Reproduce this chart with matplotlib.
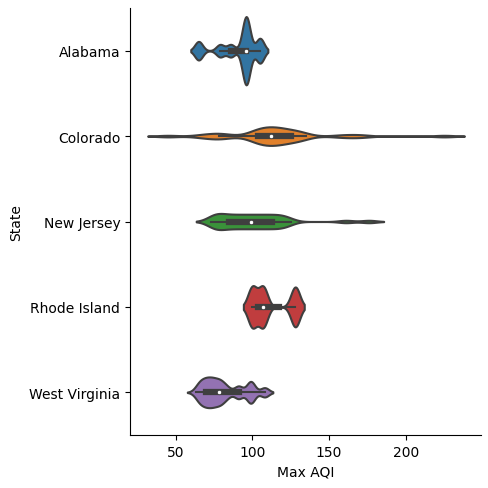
import numpy as np
import pandas as pd
import matplotlib
matplotlib.use("Agg")
import matplotlib.pyplot as plt
import seaborn as sns

# Max AQI readings per state (value, how many readings with that value)
states = ["Alabama", "Colorado", "New Jersey", "Rhode Island", "West Virginia"]

al_vals = [65, 79, 86, 96, 105]
al_counts = [3, 2, 2, 11, 4]

co_vals = [45, 66, 72, 78, 84, 100, 104, 108, 112, 116, 120, 125, 130, 135, 157, 165, 172, 225]
co_counts = [1, 1, 1, 2, 1, 2, 3, 3, 3, 3, 3, 2, 3, 1, 1, 1, 1, 1]

nj_vals = [73, 77, 81, 85, 89, 93, 97, 101, 105, 109, 113, 117, 121, 125, 161, 176]
nj_counts = [2, 3, 2, 2, 2, 2, 2, 2, 2, 2, 2, 2, 2, 1, 1, 1]

ri_vals = [100, 107, 128]
ri_counts = [1, 1, 1]

wv_vals = [63, 66, 70, 74, 78, 81, 84, 91, 99, 108]
wv_counts = [1, 5, 6, 6, 5, 3, 2, 4, 7, 3]

groups = [(al_vals, al_counts), (co_vals, co_counts), (nj_vals, nj_counts),
          (ri_vals, ri_counts), (wv_vals, wv_counts)]

rows = []
for name, (vals, counts) in zip(states, groups):
    for v in np.repeat(vals, counts):
        rows.append((name, v))
df = pd.DataFrame(rows, columns=["State", "Max AQI"])

fig = plt.figure(figsize=(4.89, 4.89), dpi=100)
ax = fig.add_axes([130 / 489, 1 - 436 / 489, 351 / 489, 427 / 489])

sns.violinplot(data=df, x="Max AQI", y="State", order=states, bw_method=0.2,
               linewidth=1.5, linecolor="#3f3f3f",
               inner_kws=dict(marker="o", box_width=4.5, whis_width=1.5), ax=ax)

# one colour per state, like the old seaborn default
colors = [sns.desaturate(c, 0.75) for c in sns.color_palette(n_colors=5)]
for coll, c in zip(ax.collections, colors):
    coll.set_facecolor(c)

# small white median dots
for ln in ax.lines:
    if ln.get_marker() == "o":
        ln.set_markersize(3.2)
        ln.set_markerfacecolor("white")
        ln.set_markeredgecolor("#3f3f3f")
        ln.set_markeredgewidth(0.6)

ax.set_xlim(20.3, 249)
ax.set_xticks([50, 100, 150, 200])
sns.despine(ax=ax)

fig.savefig("out.png", dpi=100)
